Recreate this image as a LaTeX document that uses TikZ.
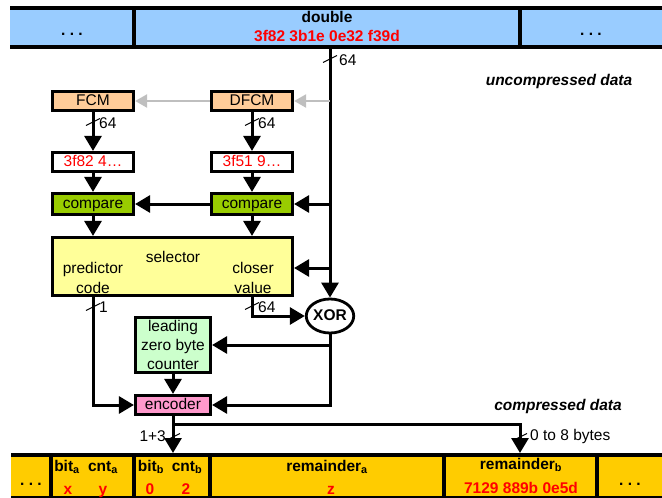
\documentclass[tikz,border=0pt]{standalone}
\usepackage{fontspec}
\setmainfont{Liberation Sans}
\usetikzlibrary{arrows.meta,shapes.geometric}
\definecolor{topblue}{HTML}{99CCFF}
\definecolor{botyel}{HTML}{FFCC00}
\definecolor{peach}{HTML}{FFCC99}
\definecolor{cmpgreen}{HTML}{99CC00}
\definecolor{selyel}{HTML}{FFFF99}
\definecolor{cntgreen}{HTML}{CCFFCC}
\definecolor{encpink}{HTML}{FF99CC}
\definecolor{hexred}{HTML}{FF0000}
\definecolor{arrgray}{HTML}{BFBFBF}
\tikzset{
 lbl/.style={font=\fontsize{15.5}{19}\selectfont, inner sep=0pt},
 blbl/.style={font=\fontsize{15.5}{19}\selectfont\bfseries, inner sep=0pt, text height=11pt, text depth=3pt},
 rlbl/.style={blbl, text=hexred},
 box/.style={draw, line width=3.2pt, inner sep=0pt, font=\fontsize{15.5}{19}\selectfont, align=center},
 sbox/.style={box, text height=11pt, text depth=3pt},
 conn/.style={line width=3pt},
 arr/.style={conn, -{Triangle[length=15pt,width=17pt]}},
 garr/.style={draw=arrgray, line width=2.2pt, -{Triangle[length=12pt,width=13pt]}},
 barline/.style={line width=3.8pt},
 bustick/.style={line width=1pt},
}
\newcommand\bustickat[1]{\draw[bustick] ([shift={(-7,3.5)}]#1) -- ([shift={(7,-3.5)}]#1);}
\begin{document}
\begin{tikzpicture}[x=1pt,y=-1pt]
\useasboundingbox (0,0) rectangle (662,498);
% ---------- top bar
\fill[topblue] (10,8) rectangle (662,47);
\draw[barline] (10,8) -- (662,8) (10,47) -- (662,47) (134,8) -- (134,47) (520,8) -- (520,47);
\node[blbl] (tdots1) at (72,31) {.\ .\ .};
\node[blbl] (tdouble) at (327,18) {double};
\node[rlbl] (tval) at (327,37) {3f82 3b1e 0e32 f39d};
\node[blbl] (tdots2) at (591,31) {.\ .\ .};
\node[font=\fontsize{15.5}{19}\selectfont\bfseries\itshape, inner sep=0pt] (unc) at (559,81) {uncompressed data};
% ---------- boxes
\node[sbox, fill=peach, minimum width=81pt, minimum height=19pt] (fcm) at (93,101) {FCM};
\node[sbox, fill=peach, minimum width=81pt, minimum height=19pt] (dfcm) at (252,101) {DFCM};
\node[sbox, fill=white, minimum width=81pt, minimum height=19pt, text=hexred] (red1) at (93,162) {3f82 4\dots};
\node[sbox, fill=white, minimum width=81pt, minimum height=19pt, text=hexred] (red2) at (252,162) {3f51 9\dots};
\node[sbox, fill=cmpgreen, minimum width=81pt, minimum height=21pt] (cmp1) at (93,204) {compare};
\node[sbox, fill=cmpgreen, minimum width=81pt, minimum height=21pt] (cmp2) at (252,204) {compare};
\node[box, fill=selyel, minimum width=240pt, minimum height=58pt] (sel) at (172.5,266.5) {};
\node[lbl] (selt) at (173,257) {selector};
\node[lbl, align=center, font=\fontsize{15.5}{20}\selectfont] (pc) at (93,278) {predictor\\code};
\node[lbl, align=center, font=\fontsize{15.5}{20}\selectfont] (cv) at (253,278) {closer\\value};
\node[draw, ellipse, line width=2.8pt, fill=white, minimum width=44pt, minimum height=34pt, inner sep=0pt, text height=11pt, text depth=2pt, font=\fontsize{15.5}{19}\selectfont\bfseries] (xor) at (330,316) {XOR};
\node[box, fill=cntgreen, minimum width=75pt, minimum height=55pt] (cnt) at (173,345) {leading\\zero byte\\counter};
\node[sbox, fill=encpink, minimum width=75pt, minimum height=19pt] (enc) at (173,405) {encoder};
% ---------- connectors
\coordinate (mtop) at (330,47);
\coordinate (jd) at (330,101);
\coordinate (jc) at (330,204);
\coordinate (js) at (330,268);
\draw[arr] (mtop) -- (xor.north);
\draw[garr] (jd) -- (dfcm.east);
\draw[garr] (dfcm.west) -- (fcm.east);
\draw[arr] (fcm.south) -- (red1.north);
\draw[arr] (dfcm.south) -- (red2.north);
\draw[arr] (red1.south) -- (cmp1.north);
\draw[arr] (red2.south) -- (cmp2.north);
\draw[arr] (jc) -- (cmp2.east);
\draw[arr] (cmp2.west) -- (cmp1.east);
\draw[arr] (cmp1.south) -- (cmp1.south |- sel.north);
\draw[arr] (cmp2.south) -- (cmp2.south |- sel.north);
\draw[arr] (js) -- (js -| sel.east);
\draw[arr] (sel.south -| red2.south) |- (xor.west);
\draw[arr] (sel.south -| red1.south) |- (enc.west);
\draw[arr] (xor.south) |- (enc.east);
\draw[arr] (xor.south |- cnt.east) -- (cnt.east);
\draw[arr] (cnt.south) -- (enc.north);
\coordinate (je) at (173,424);
\coordinate (bb1) at (173,453);
\coordinate (bb2) at (520,453);
\draw[arr] (enc.south) -- (bb1);
\draw[arr] (je) -| (bb2);
% ---------- bus ticks
\coordinate (tk0) at (330,59);
\coordinate (tk1) at (93,122);
\coordinate (tk2) at (252,122);
\coordinate (tk3) at (93,307);
\coordinate (tk4) at (252,306);
\coordinate (tk5) at (173,437);
\coordinate (tk6) at (520,437);
\bustickat{tk0}\bustickat{tk1}\bustickat{tk2}\bustickat{tk3}\bustickat{tk4}\bustickat{tk5}\bustickat{tk6}
\node[lbl, anchor=west] (l0) at (339,60) {64};
\node[lbl, anchor=west] (l1) at (99,123) {64};
\node[lbl, anchor=west] (l2) at (258,123) {64};
\node[lbl, anchor=west] (l3) at (99,307) {1};
\node[lbl, anchor=west] (l4) at (258,307) {64};
\node[lbl, anchor=east] (l5) at (166,436) {1+3};
\node[lbl, anchor=west] (l6) at (530,436) {0 to 8 bytes};
\node[font=\fontsize{15.5}{19}\selectfont\bfseries\itshape, inner sep=0pt] (cmpd) at (558,406) {compressed data};
% ---------- bottom bar
\fill[botyel] (11,455) rectangle (662,497);
\draw[barline] (11,455) -- (662,455) (51,455) -- (51,497) (134,455) -- (134,497) (210,455) -- (210,497) (444,455) -- (444,497) (597,455) -- (597,497);
\draw[line width=2pt] (11,497) -- (662,497);
\node[blbl] (bdots1) at (31,481) {.\ .\ .};
\node[blbl] (bita) at (67,467) {bit\textsubscript{a}};
\node[blbl] (cnta) at (103,467) {cnt\textsubscript{a}};
\node[rlbl] (vx) at (68,490) {x};
\node[rlbl] (vy) at (103,490) {y};
\node[blbl] (bitb) at (151,467) {bit\textsubscript{b}};
\node[blbl] (cntb) at (187,467) {cnt\textsubscript{b}};
\node[rlbl] (v0) at (150,490) {0};
\node[rlbl] (v2) at (186,490) {2};
\node[blbl] (rema) at (327,467) {remainder\textsubscript{a}};
\node[rlbl] (vz) at (331,490) {z};
\node[blbl] (remb) at (521,465) {remainder\textsubscript{b}};
\node[rlbl] (vrb) at (521,489) {7129 889b 0e5d};
\node[blbl] (bdots2) at (630,481) {.\ .\ .};
\end{tikzpicture}
\end{document}
